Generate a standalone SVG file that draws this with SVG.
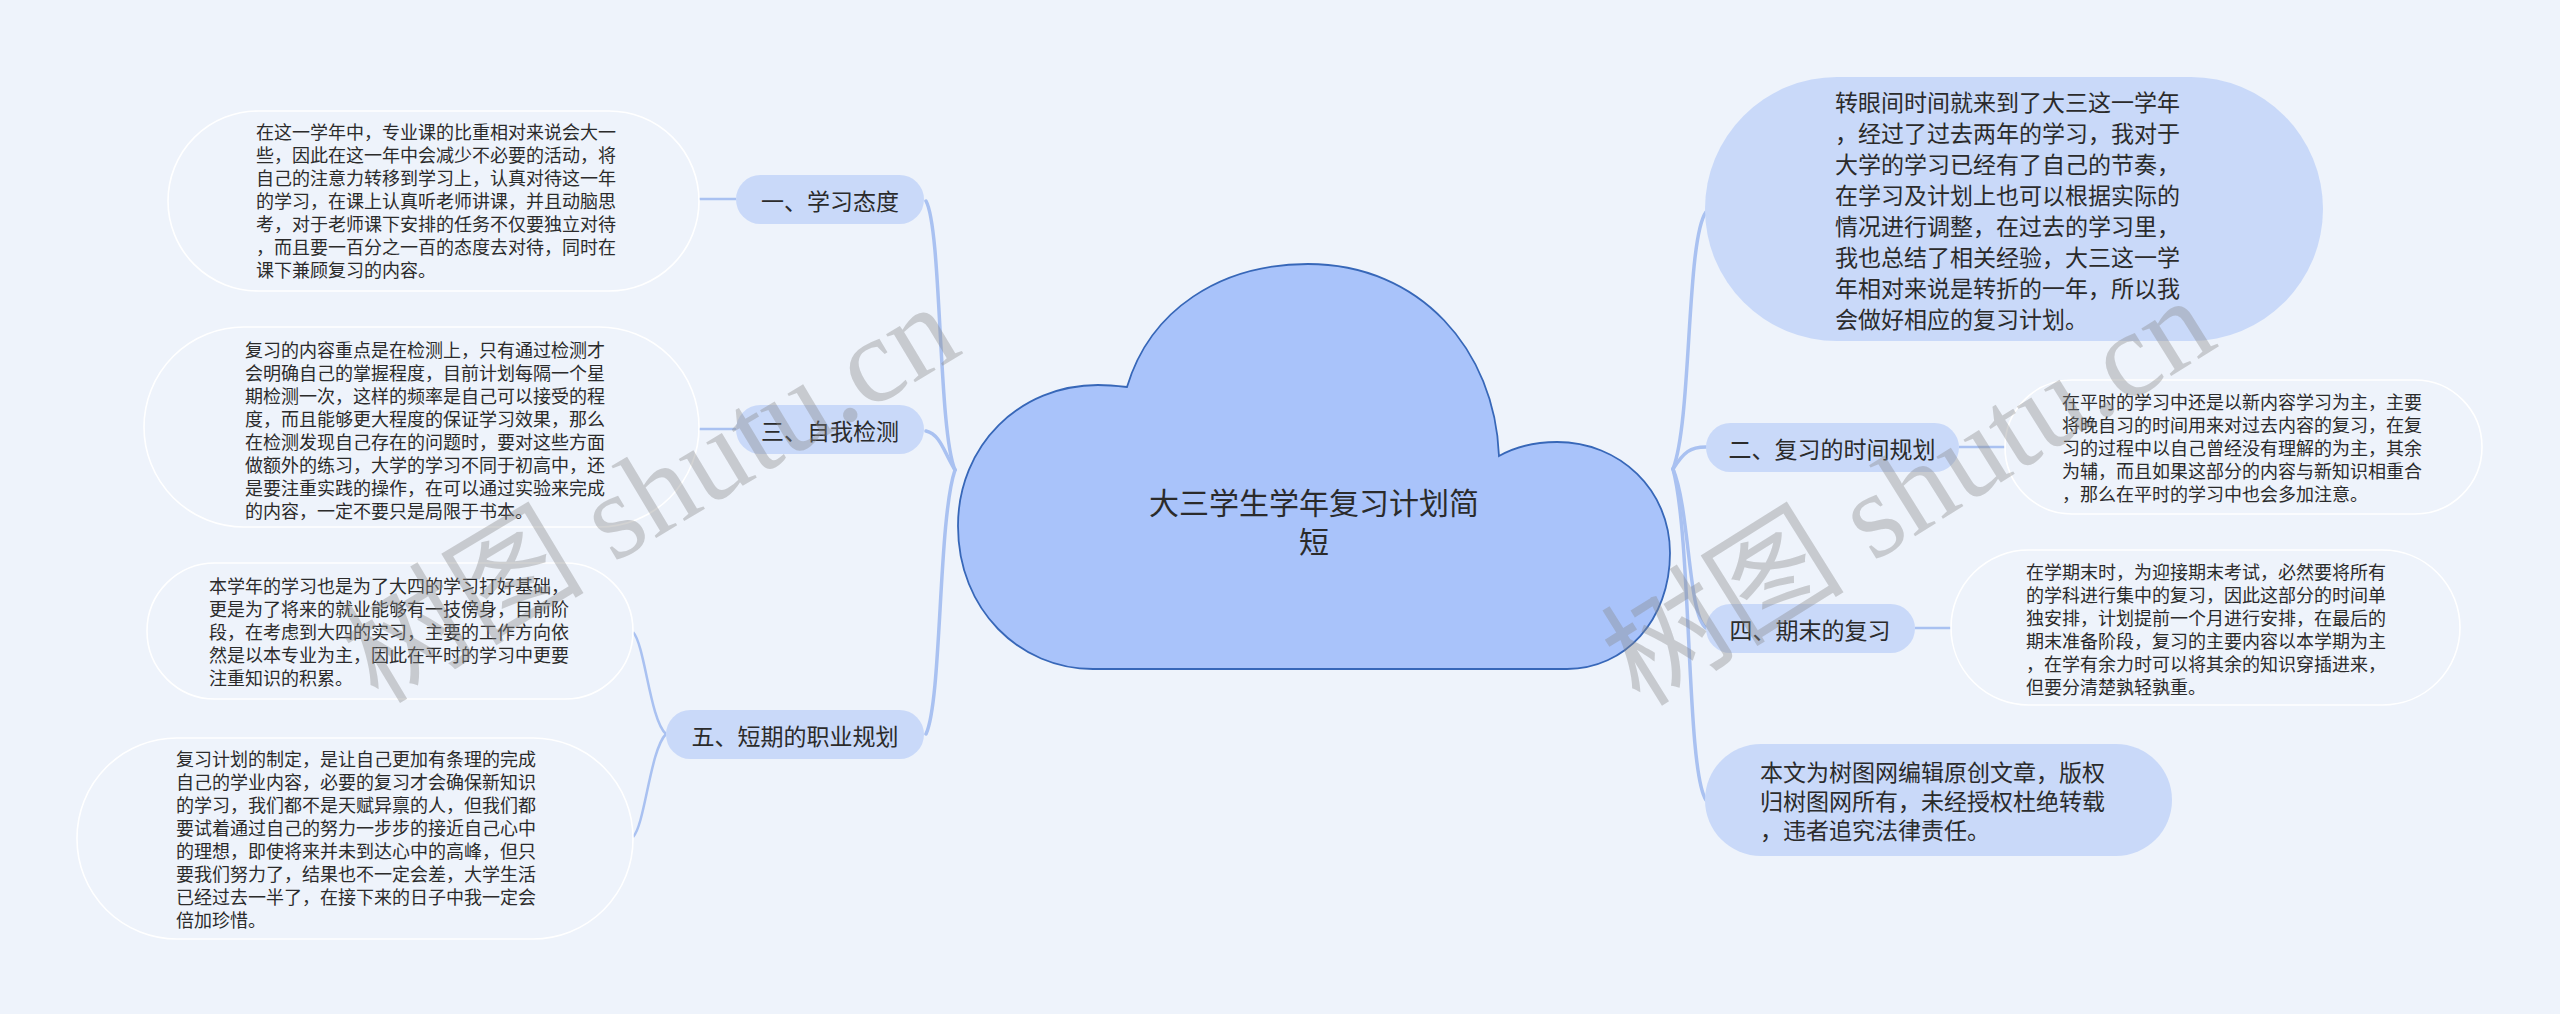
<svg xmlns="http://www.w3.org/2000/svg" width="2560" height="1014" viewBox="0 0 2560 1014">
<style>
text{font-family:"Noto Sans CJK SC","Noto Sans",sans-serif;fill:#2b2b2b;dominant-baseline:central}
.leaf{fill:#eef3fb;stroke:#ffffff;stroke-width:1.6}
.leaf-t{font-size:18px}
.pill{fill:#c9d9f9;stroke:none}
.pill-t{font-size:23px;text-anchor:middle}
.big-t{font-size:23px}
.conn{fill:none;stroke:#a9c1f1;stroke-width:3.5;stroke-linecap:round}
.thin{fill:none;stroke:#a9c1f1;stroke-width:2.5}
.wm{font-family:"Liberation Serif","Noto Sans CJK SC",serif;font-size:122px;fill:#8a8a8a;fill-opacity:0.38;dominant-baseline:auto}
</style>
<rect width="2560" height="1014" fill="#eef3fb"/>
<g id="connectors">
<path class="conn" d="M955 470 C938 430 942 230 926 201"/>
<path class="conn" d="M955 470 C944 452 940 434 926 431"/>
<path class="conn" d="M955 470 C938 520 942 700 926 734"/>
<path class="conn" d="M1673 469 C1692 420 1686 240 1706 212"/>
<path class="conn" d="M1673 469 C1684 452 1690 447 1706 447"/>
<path class="conn" d="M1673 469 C1690 510 1688 615 1706 628"/>
<path class="conn" d="M1673 469 C1692 540 1686 770 1706 800"/>
<path class="thin" d="M699 199 L736 199"/>
<path class="thin" d="M699 429 L736 429"/>
<path class="thin" d="M666 734 C650 720 645 645 633 632"/>
<path class="thin" d="M666 734 C650 750 645 825 633 837"/>
<path class="thin" d="M1959 447 L2005 447"/>
<path class="thin" d="M1915 628 L1951 628"/>
</g>
<g id="root">
<path d="M1127 387 C1150 310 1220 264 1308 264 C1420 264 1495 350 1499 456 C1515 447 1535 442 1557 442 C1620 442 1670 490 1670 553 C1670 620 1625 669 1567 669 L1093 669 C1020 669 958 610 958 526 C958 445 1020 385 1098 385 C1108 385 1118 386 1127 387 Z" fill="#a9c3fa" stroke="#3767b8" stroke-width="1.8"/>
<text x="1314" y="501" font-size="30" text-anchor="middle">大三学生学年复习计划简</text>
<text x="1314" y="540" font-size="30" text-anchor="middle">短</text>
</g>
<g id="node-intro">
<rect class="pill" x="1705" y="77" width="618" height="264" rx="132"/>
<text class="big-t" x="1835" y="101">转眼间时间就来到了大三这一学年</text>
<text class="big-t" x="1835" y="132">，经过了过去两年的学习，我对于</text>
<text class="big-t" x="1835" y="163">大学的学习已经有了自己的节奏，</text>
<text class="big-t" x="1835" y="194">在学习及计划上也可以根据实际的</text>
<text class="big-t" x="1835" y="225">情况进行调整，在过去的学习里，</text>
<text class="big-t" x="1835" y="256">我也总结了相关经验，大三这一学</text>
<text class="big-t" x="1835" y="287">年相对来说是转折的一年，所以我</text>
<text class="big-t" x="1835" y="318">会做好相应的复习计划。</text>
</g>
<g id="node-copyright">
<rect class="pill" x="1705" y="744" width="467" height="112" rx="56"/>
<text class="big-t" x="1760" y="771">本文为树图网编辑原创文章，版权</text>
<text class="big-t" x="1760" y="800">归树图网所有，未经授权杜绝转载</text>
<text class="big-t" x="1760" y="829">，违者追究法律责任。</text>
</g>
<g id="branch-1">
<rect class="pill" x="736" y="175" width="188" height="49" rx="24.5"/>
<text class="pill-t" x="830" y="199.5">一、学习态度</text>
</g>
<g id="branch-3">
<rect class="pill" x="736" y="405" width="188" height="49" rx="24.5"/>
<text class="pill-t" x="830" y="429.5">三、自我检测</text>
</g>
<g id="branch-5">
<rect class="pill" x="666" y="710" width="258" height="49" rx="24.5"/>
<text class="pill-t" x="795" y="734.5">五、短期的职业规划</text>
</g>
<g id="branch-2">
<rect class="pill" x="1706" y="423" width="253" height="49" rx="24.5"/>
<text class="pill-t" x="1832" y="447.5">二、复习的时间规划</text>
</g>
<g id="branch-4">
<rect class="pill" x="1706" y="604" width="209" height="49" rx="24.5"/>
<text class="pill-t" x="1810" y="628.5">四、期末的复习</text>
</g>
<g id="leaf-1">
<rect class="leaf" x="168" y="111" width="531" height="180" rx="90"/>
<text class="leaf-t" x="256" y="131">在这一学年中，专业课的比重相对来说会大一</text>
<text class="leaf-t" x="256" y="154">些，因此在这一年中会减少不必要的活动，将</text>
<text class="leaf-t" x="256" y="177">自己的注意力转移到学习上，认真对待这一年</text>
<text class="leaf-t" x="256" y="200">的学习，在课上认真听老师讲课，并且动脑思</text>
<text class="leaf-t" x="256" y="223">考，对于老师课下安排的任务不仅要独立对待</text>
<text class="leaf-t" x="256" y="246">，而且要一百分之一百的态度去对待，同时在</text>
<text class="leaf-t" x="256" y="269">课下兼顾复习的内容。</text>
</g>
<g id="leaf-3">
<rect class="leaf" x="144" y="327" width="555" height="200" rx="100"/>
<text class="leaf-t" x="245" y="349">复习的内容重点是在检测上，只有通过检测才</text>
<text class="leaf-t" x="245" y="372">会明确自己的掌握程度，目前计划每隔一个星</text>
<text class="leaf-t" x="245" y="395">期检测一次，这样的频率是自己可以接受的程</text>
<text class="leaf-t" x="245" y="418">度，而且能够更大程度的保证学习效果，那么</text>
<text class="leaf-t" x="245" y="441">在检测发现自己存在的问题时，要对这些方面</text>
<text class="leaf-t" x="245" y="464">做额外的练习，大学的学习不同于初高中，还</text>
<text class="leaf-t" x="245" y="487">是要注重实践的操作，在可以通过实验来完成</text>
<text class="leaf-t" x="245" y="510">的内容，一定不要只是局限于书本。</text>
</g>
<g id="leaf-5a">
<rect class="leaf" x="147" y="563" width="486" height="136" rx="68"/>
<text class="leaf-t" x="209" y="585">本学年的学习也是为了大四的学习打好基础，</text>
<text class="leaf-t" x="209" y="608">更是为了将来的就业能够有一技傍身，目前阶</text>
<text class="leaf-t" x="209" y="631">段，在考虑到大四的实习，主要的工作方向依</text>
<text class="leaf-t" x="209" y="654">然是以本专业为主，因此在平时的学习中更要</text>
<text class="leaf-t" x="209" y="677">注重知识的积累。</text>
</g>
<g id="leaf-5b">
<rect class="leaf" x="77" y="738" width="556" height="201" rx="100"/>
<text class="leaf-t" x="176" y="758">复习计划的制定，是让自己更加有条理的完成</text>
<text class="leaf-t" x="176" y="781">自己的学业内容，必要的复习才会确保新知识</text>
<text class="leaf-t" x="176" y="804">的学习，我们都不是天赋异禀的人，但我们都</text>
<text class="leaf-t" x="176" y="827">要试着通过自己的努力一步步的接近自己心中</text>
<text class="leaf-t" x="176" y="850">的理想，即使将来并未到达心中的高峰，但只</text>
<text class="leaf-t" x="176" y="873">要我们努力了，结果也不一定会差，大学生活</text>
<text class="leaf-t" x="176" y="896">已经过去一半了，在接下来的日子中我一定会</text>
<text class="leaf-t" x="176" y="919">倍加珍惜。</text>
</g>
<g id="leaf-2">
<rect class="leaf" x="2005" y="380" width="477" height="134" rx="67"/>
<text class="leaf-t" x="2062" y="401">在平时的学习中还是以新内容学习为主，主要</text>
<text class="leaf-t" x="2062" y="424">将晚自习的时间用来对过去内容的复习，在复</text>
<text class="leaf-t" x="2062" y="447">习的过程中以自己曾经没有理解的为主，其余</text>
<text class="leaf-t" x="2062" y="470">为辅，而且如果这部分的内容与新知识相重合</text>
<text class="leaf-t" x="2062" y="493">，那么在平时的学习中也会多加注意。</text>
</g>
<g id="leaf-4">
<rect class="leaf" x="1951" y="550" width="509" height="155" rx="77.5"/>
<text class="leaf-t" x="2026" y="571">在学期末时，为迎接期末考试，必然要将所有</text>
<text class="leaf-t" x="2026" y="594">的学科进行集中的复习，因此这部分的时间单</text>
<text class="leaf-t" x="2026" y="617">独安排，计划提前一个月进行安排，在最后的</text>
<text class="leaf-t" x="2026" y="640">期末准备阶段，复习的主要内容以本学期为主</text>
<text class="leaf-t" x="2026" y="663">，在学有余力时可以将其余的知识穿插进来，</text>
<text class="leaf-t" x="2026" y="686">但要分清楚孰轻孰重。</text>
</g>
<g id="watermark">
<text class="wm" transform="translate(378 705) rotate(-31)">树图 shutu.cn</text>
<text class="wm" transform="translate(1640 708) rotate(-32)">树图 shutu.cn</text>
</g>
</svg>
